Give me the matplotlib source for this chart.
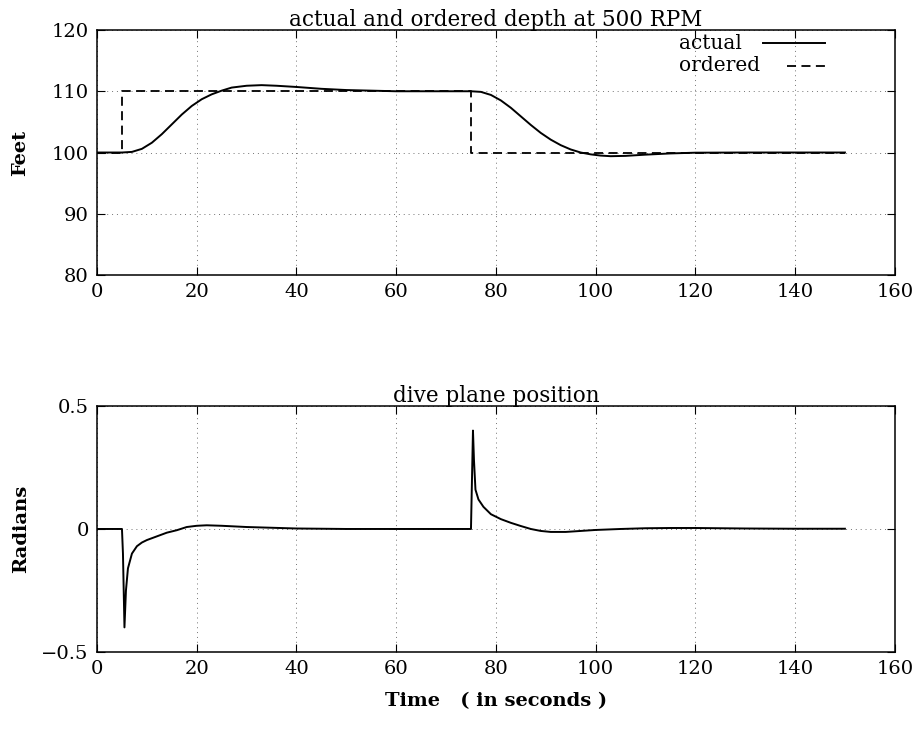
import numpy as np
import matplotlib
matplotlib.use('Agg')
import matplotlib.pyplot as plt

plt.rcParams['font.family'] = ['DejaVu Serif']
plt.rcParams['font.size'] = 15

# depth response
t_act = [0, 5, 7, 9, 11, 13, 15, 17, 19, 21, 23, 25, 27, 30, 33, 36, 40, 45, 50, 55, 60, 70,
         75, 77, 79, 81, 83, 85, 87, 89, 91, 93, 95, 97, 99, 101, 103, 106, 110, 115, 120, 130, 150]
d_act = [100, 100, 100.1, 100.6, 101.6, 103, 104.6, 106.2, 107.6, 108.7, 109.5, 110.1, 110.6,
         110.9, 111.0, 110.9, 110.7, 110.4, 110.2, 110.1, 110.0, 110.0, 110.0, 109.9, 109.4,
         108.5, 107.3, 105.9, 104.5, 103.2, 102.1, 101.2, 100.5, 100.0, 99.7, 99.5, 99.4,
         99.45, 99.65, 99.85, 99.97, 100, 100]
t_ord = [0, 5, 5, 75, 75, 150]
d_ord = [100, 100, 110, 110, 100, 100]

# dive plane position
t_pl = [0, 5, 5.2, 5.5, 5.8, 6.2, 7, 8, 9, 10, 12, 14, 16, 18, 20, 22, 25, 30, 40, 50, 60, 70,
        75, 75.2, 75.4, 75.6, 75.9, 76.5, 77.5, 79, 81, 83, 85, 87, 89, 91, 94, 97, 100, 105,
        110, 115, 120, 130, 140, 150]
p_pl = [0, 0, -0.1, -0.40, -0.25, -0.16, -0.10, -0.07, -0.055, -0.045, -0.03, -0.015, -0.005,
        0.008, 0.013, 0.015, 0.013, 0.008, 0.002, 0, 0, 0, 0, 0.2, 0.40, 0.28, 0.16, 0.12,
        0.09, 0.06, 0.04, 0.025, 0.012, 0.0, -0.008, -0.012, -0.012, -0.008, -0.004, 0,
        0.003, 0.004, 0.004, 0.002, 0.001, 0.001]

fig = plt.figure(figsize=(9.18, 7.32), dpi=100)
ax1 = fig.add_axes([0.1057, 0.6243, 0.869, 0.3347])
ax2 = fig.add_axes([0.1057, 0.1093, 0.869, 0.3361])

def style(ax):
  ax.tick_params(direction='in', top=True, right=True, length=6, labelsize=14, pad=6)
  ax.grid(True, linestyle=(0, (1, 4)), color='0.45', linewidth=0.7)
  ax.set_xlim(0, 160)
  ax.set_xticks(np.arange(0, 161, 20))
  for s in ax.spines.values():
    s.set_linewidth(1.1)

ax1.plot(t_act, d_act, 'k-', lw=1.4)
ax1.plot(t_ord, d_ord, 'k--', lw=1.3, dashes=(5, 3))
ax1.set_ylim(80, 120)
ax1.set_yticks([80, 90, 100, 110, 120])
ax1.set_ylabel('Feet', labelpad=16, fontweight='bold', fontsize=14)
ax1.set_title('actual and ordered depth at 500 RPM', fontsize=15.5, pad=3)
style(ax1)

# gnuplot style key: labels left aligned, samples right aligned
ax1.text(0.73, 0.945, 'actual', transform=ax1.transAxes, va='center', ha='left', fontsize=14.5)
ax1.text(0.73, 0.855, 'ordered', transform=ax1.transAxes, va='center', ha='left', fontsize=14.5)
ax1.plot([0.835, 0.913], [0.945, 0.945], 'k-', lw=1.4, transform=ax1.transAxes)
ax1.plot([0.865, 0.913], [0.855, 0.855], 'k--', lw=1.3, dashes=(5, 3), transform=ax1.transAxes)

ax2.plot(t_pl, p_pl, 'k-', lw=1.4)
ax2.set_ylim(-0.5, 0.5)
ax2.set_yticks([-0.5, 0, 0.5])
ax2.set_yticklabels(['\u22120.5', '0', '0.5'])
ax2.set_ylabel('Radians', labelpad=8, fontweight='bold', fontsize=14)
ax2.set_title('dive plane position', fontsize=15.5, pad=3)
ax2.set_xlabel('Time   ( in seconds )', labelpad=10, fontweight='bold', fontsize=14)
style(ax2)

plt.savefig('out.png', dpi=100)
